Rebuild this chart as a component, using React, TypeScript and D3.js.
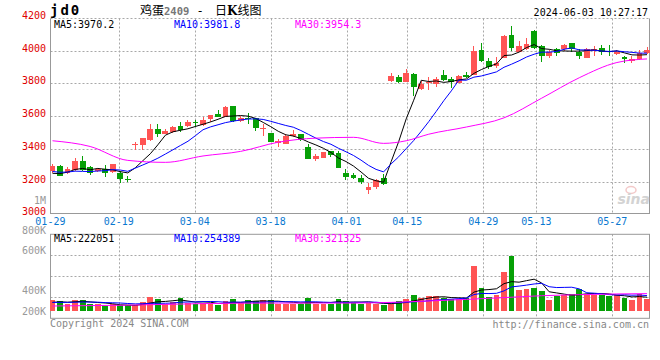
import React from "react";
import * as d3 from "d3";

// ---------- data ----------
const tickIdx = [0, 9, 19, 29, 39, 47, 57, 64, 74];
const tickLabels = ["01-29", "02-19", "03-04", "03-18", "04-01", "04-15", "04-29", "05-13", "05-27"];
const priceTicks = [3000, 3200, 3400, 3600, 3800, 4000, 4200];

const opens = [3267,3295,3255,3270,3326,3288,3265,3275,3261,3255,3218,3428,3424,3454,3521,3491,3501,3540,3542,3564,
3546,3582,3613,3597,3662,3572,3592,3587,3522,3495,3434,3430,3479,3491,3413,3338,3346,3389,3373,3251,
3241,3224,3149,3165,3220,3817,3837,3810,3857,3766,3800,3795,3851,3825,3804,3851,3851,4004,3939,3908,
3957,4096,3994,4010,4120,4028,3969,4010,4008,4045,3994,3957,4000,4014,3996,3978,3963,3939,3951,3984];
const highs = [3308,3301,3290,3342,3357,3297,3282,3302,3308,3265,3235,3440,3468,3552,3552,3521,3542,3566,3577,3577,
3597,3607,3638,3662,3662,3603,3617,3587,3552,3499,3460,3489,3515,3491,3430,3369,3383,3389,3389,3277,
3251,3241,3194,3216,3247,3862,3851,3886,3862,3817,3837,3837,3882,3841,3851,3871,4028,4049,3953,3959,
4096,4150,4059,4075,4126,4035,4004,4014,4041,4049,4008,4014,4028,4035,4035,4004,3967,3967,4004,4024];
const lows = [3255,3235,3245,3266,3267,3242,3261,3230,3255,3190,3200,3393,3393,3450,3475,3489,3495,3501,3536,3536,
3542,3566,3593,3593,3566,3566,3550,3511,3481,3440,3413,3428,3471,3450,3338,3328,3343,3352,3285,3210,
3216,3186,3123,3153,3180,3810,3800,3807,3725,3760,3760,3780,3815,3774,3800,3831,3851,3933,3888,3892,
3953,4000,3990,4004,4010,3933,3953,3969,4000,3994,3947,3957,3967,3973,3967,3973,3922,3922,3943,3978];
const closes = [3296,3236,3275,3326,3271,3255,3277,3251,3308,3216,3216,3432,3468,3521,3489,3509,3536,3516,3566,3560,
3576,3607,3597,3654,3572,3590,3588,3529,3530,3444,3448,3481,3491,3454,3338,3358,3379,3363,3285,3230,
3220,3198,3169,3210,3186,3847,3810,3865,3780,3795,3810,3827,3821,3807,3845,3837,3998,3939,3902,3923,
4091,4014,4028,4041,4014,3967,3994,3984,4034,4008,3969,4008,4008,3994,3992,3994,3947,3947,3988,4004];
const volumes = [171,162,138,171,171,140,133,114,133,124,124,124,155,203,181,140,157,193,150,133,
150,140,130,162,181,143,171,162,171,171,140,140,140,140,193,140,140,140,181,162,
150,140,150,140,130,140,162,181,219,193,210,210,193,181,181,197,495,292,203,219,
441,590,267,276,289,260,171,212,219,235,283,219,225,219,212,225,193,171,235,181].map(v => v * 1000);

// closes / volumes before the window (for the first MA5 / MA10 points)
const priorCloses = [3280, 3265, 3270, 3285, 3265, 3245, 3230, 3244, 3240];
const priorVolumes = [150, 140, 160, 150, 145, 140, 155, 150, 145].map(v => v * 1000);

// MA30 at [index, value]
const ma30Idx = [0, 5, 10, 15, 20, 25, 30, 35, 40, 44, 47, 50, 55, 60, 65, 70, 75, 79];
const ma30Val = [3450, 3415, 3330, 3318, 3357, 3385, 3441, 3466, 3471, 3434, 3450, 3490, 3534, 3590, 3710, 3835, 3928, 3950];
const volMa30Idx = [0, 10, 20, 30, 40, 50, 55, 60, 65, 70, 75, 79];
const volMa30Val = [117, 125, 140, 145, 145, 165, 180, 197, 215, 225, 232, 235].map(v => v * 1000);

const volTickLabels = ["800K", "600K", "", "400K", "200K"];
const volFloor = 67000;

// ---------- layout ----------
const PL = 50.5, PR = 649.5;
const MAIN_TOP = 18.5, MAIN_BOT = 214;
const VOL_TOP = 234.3, VOL_BOT = 318.3;
const RED = "#ff5454", GREEN = "#06a006";
const MONO = "'DejaVu Sans Mono', monospace";
const GRID = "#a8a8a8";

const n = closes.length;
const xC = d3.scaleLinear().domain([0, n - 1]).range([52.5, 647]);
const xG = d3.scaleLinear().domain([0, n - 1]).range([50.4, 650.3]);
const yP = d3.scaleLinear().domain([3000, 4200]).range([214.4, 18]);
const yV = d3.scaleLinear().domain([0, 800000]).range([VOL_BOT, VOL_TOP]);

function movingAvg(prior: number[], vals: number[], k: number) {
  const all = [...prior, ...vals];
  const off = prior.length;
  return vals.map((_, i) => d3.mean(all.slice(i + off - k + 1, i + off + 1)) as number);
}

export default function App() {
  const ma5 = movingAvg(priorCloses, closes, 5);
  const ma10 = movingAvg(priorCloses, closes, 10);
  const vma5 = movingAvg(priorVolumes, volumes, 5);
  const vma10 = movingAvg(priorVolumes, volumes, 10);

  const lineP = d3.line<number>().x((_, i) => xC(i)).y(v => yP(v));
  const lineV = d3.line<number>().x((_, i) => xC(i)).y(v => yV(v));
  const ma30Pts = ma30Idx.map((k, j) => [k, ma30Val[j]] as [number, number]);
  const vma30Pts = volMa30Idx.map((k, j) => [k, volMa30Val[j]] as [number, number]);
  const line30 = d3.line<[number, number]>().x(d => xC(d[0])).y(d => yP(d[1])).curve(d3.curveMonotoneX);
  const lineV30 = d3.line<[number, number]>().x(d => xC(d[0])).y(d => yV(d[1])).curve(d3.curveMonotoneX);

  const bw = 5.8;
  const volGridVals = yV.ticks(4).slice().reverse(); // 800K..0

  return (
    <div style={{ position: "fixed", left: 0, top: 0, width: 660, height: 360, background: "#fff" }}>
      <svg width={660} height={360} style={{ display: "block", background: "#fff" }}>
        {/* header */}
        <text x={50} y={15} fontFamily={MONO} fontWeight="bold" fontSize={14} letterSpacing={2} fill="#000">jd0</text>
        <text x={140} y={15} fontFamily="'Noto Sans CJK SC', sans-serif" fontSize={12} fill="#000">
          鸡蛋<tspan fill="#777" fontFamily={MONO} fontWeight="bold" fontSize={10.5}>2409</tspan>
          <tspan fontFamily={MONO}> - </tspan>
          <tspan dx={4}>日</tspan><tspan fontWeight="bold" fontFamily="'DejaVu Serif', serif">K</tspan><tspan>线图</tspan>
        </text>
        <text x={648} y={16} textAnchor="end" fontFamily={MONO} fontSize={10} fill="#000">2024-06-03 10:27:17</text>

        {/* main panel grid */}
        {priceTicks.filter(v => v > 3000).map(v => (
          <line key={"hg" + v} x1={PL} x2={PR} y1={Math.round(yP(v)) + 0.5} y2={Math.round(yP(v)) + 0.5}
            stroke={GRID} strokeDasharray="2,2" />
        ))}
        {tickIdx.slice(1).map(k => (
          <line key={"vg" + k} x1={Math.round(xG(k)) + 0.5} x2={Math.round(xG(k)) + 0.5} y1={MAIN_TOP} y2={MAIN_BOT}
            stroke={GRID} strokeDasharray="2,2" />
        ))}
        {tickIdx.slice(1).map(k => (
          <line key={"vgv" + k} x1={Math.round(xG(k)) + 0.5} x2={Math.round(xG(k)) + 0.5} y1={VOL_TOP} y2={VOL_BOT}
            stroke={GRID} strokeDasharray="2,2" />
        ))}
        <line x1={PL} x2={PL} y1={MAIN_TOP} y2={MAIN_BOT} stroke="#999" />
        <line x1={PR} x2={PR} y1={MAIN_TOP} y2={MAIN_BOT} stroke="#999" />
        <line x1={PL} x2={PR} y1={MAIN_BOT - 0.5} y2={MAIN_BOT - 0.5} stroke="#999" />

        {/* price labels */}
        {priceTicks.map(v => (
          <text key={"pl" + v} x={46} y={yP(v) + 1} textAnchor="end" fontFamily={MONO} fontSize={10} fill="#e00000">{v}</text>
        ))}
        <text x={46} y={204} textAnchor="end" fontFamily={MONO} fontSize={10} fill="#999">1M</text>

        {/* date labels */}
        {tickIdx.map((k, j) => (
          <text key={"dl" + k} x={xG(k)} y={224.8} textAnchor="middle" fontFamily={MONO} fontSize={10} fill="#0a78d0">{tickLabels[j]}</text>
        ))}

        {/* sina watermark */}
        <g opacity={0.9}>
          <ellipse cx={631} cy={190} rx={5} ry={3.5} fill="none" stroke="#f2c4c4" strokeWidth={1.5} />
          <text x={650} y={204} textAnchor="end" fontFamily="'DejaVu Sans', sans-serif" fontStyle="italic" fontWeight="bold" fontSize={14} fill="#cfcfcf">sina</text>
        </g>

        {/* candles */}
        <g shapeRendering="crispEdges">
          {closes.map((c, i) => {
            const o = opens[i];
            const up = c >= o;
            const col = up ? RED : GREEN;
            const x = xC(i);
            const top = yP(Math.max(o, c));
            const bot = yP(Math.min(o, c));
            return (
              <g key={"c" + i}>
                <line x1={x} x2={x} y1={yP(highs[i])} y2={yP(lows[i])} stroke={col} />
                <rect x={x - bw / 2} y={top} width={bw} height={Math.max(1, bot - top)} fill={col} />
              </g>
            );
          })}
        </g>

        {/* price MAs */}
        <path d={lineP(ma5) || ""} fill="none" stroke="#000" strokeWidth={1} />
        <path d={lineP(ma10) || ""} fill="none" stroke="#0000ff" strokeWidth={1} />
        <path d={line30(ma30Pts) || ""} fill="none" stroke="#ff00ff" strokeWidth={1} />

        {/* MA legend */}
        <text x={54} y={27.5} fontFamily={MONO} fontSize={10} fill="#000">MA5:3970.2</text>
        <text x={174} y={27.5} fontFamily={MONO} fontSize={10} fill="#0000ff">MA10:3981.8</text>
        <text x={295} y={27.5} fontFamily={MONO} fontSize={10} fill="#ff00ff">MA30:3954.3</text>

        {/* volume panel grid */}
        {volGridVals.slice(1, -1).map(v => (
          <line key={"vh" + v} x1={PL} x2={PR} y1={Math.round(yV(v)) + 0.5} y2={Math.round(yV(v)) + 0.5}
            stroke={GRID} strokeDasharray="2,2" />
        ))}
        <rect x={PL} y={VOL_TOP} width={PR - PL} height={VOL_BOT - VOL_TOP} fill="none" stroke="#999" />
        {volGridVals.map((v, j) => (
          volTickLabels[j] ? (
            <text key={"vl" + v} x={46} y={yV(v) - (j === 0 ? 0.6 : 1.5) - (j > 2 ? 2 : 0)} textAnchor="end" fontFamily={MONO} fontSize={10} fill="#999">{volTickLabels[j]}</text>
          ) : null
        ))}

        {/* volume bars */}
        <g shapeRendering="crispEdges">
          {volumes.map((v, i) => {
            const up = closes[i] >= opens[i];
            return <rect key={"v" + i} x={xC(i) - bw / 2} y={yV(v)} width={bw} height={yV(volFloor) - yV(v)} fill={up ? RED : GREEN} />;
          })}
        </g>
        <path d={lineV(vma5) || ""} fill="none" stroke="#000" />
        <path d={lineV(vma10) || ""} fill="none" stroke="#0000ff" />
        <path d={lineV30(vma30Pts) || ""} fill="none" stroke="#ff00ff" />

        <text x={54} y={241.5} fontFamily={MONO} fontSize={10} fill="#000">MA5:222051</text>
        <text x={174} y={241.5} fontFamily={MONO} fontSize={10} fill="#0000ff">MA10:254389</text>
        <text x={295} y={241.5} fontFamily={MONO} fontSize={10} fill="#ff00ff">MA30:321325</text>

        {/* footer */}
        <text x={50} y={327} fontFamily={MONO} fontSize={10} fill="#888">Copyright 2024 SINA.COM</text>
        <text x={649} y={327.5} textAnchor="end" fontFamily={MONO} fontSize={10} fill="#888">http://finance.sina.com.cn</text>
      </svg>
    </div>
  );
}
